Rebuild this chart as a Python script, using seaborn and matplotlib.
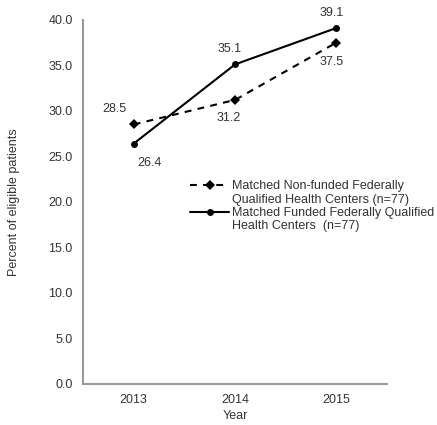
import matplotlib
matplotlib.use("Agg")
import matplotlib.pyplot as plt
from matplotlib.lines import Line2D
import seaborn as sns
import pandas as pd

years = [2013, 2014, 2015]
nonfunded = [28.5, 31.2, 37.5]
funded = [26.4, 35.1, 39.1]
name_nonfunded = "Matched Non-funded Federally"
name_nonfunded_2 = "Qualified Health Centers (n=77)"
name_funded = "Matched Funded Federally Qualified"
name_funded_2 = "Health Centers  (n=77)"
yticks = [0, 5, 10, 15, 20, 25, 30, 35, 40]

df = pd.DataFrame({
    "Year": years * 2,
    "Percent": nonfunded + funded,
    "Group": [name_nonfunded] * 3 + [name_funded] * 3,
})

sns.set_style("white")
plt.rcParams["font.family"] = ["Liberation Sans", "DejaVu Sans"]

FS = 9
TXT = "#333333"

fig = plt.figure(figsize=(4.37, 4.25), dpi=100)
ax = fig.add_axes([0.19, 0.0965, 0.696, 0.857])

sns.lineplot(data=df, x="Year", y="Percent", hue="Group", style="Group",
             palette=["black", "black"],
             dashes={name_nonfunded: (3.3, 3), name_funded: ""},
             markers={name_nonfunded: "D", name_funded: "o"},
             markersize=5, linewidth=1.5, markeredgewidth=0,
             ax=ax, legend=True)

ax.set_xlim(2012.5, 2015.5)
ax.set_ylim(0, 40)
ax.set_xticks(years)
ax.set_xticks([2015.5], minor=True)
ax.set_xticklabels([str(y) for y in years])
ax.set_yticks(yticks)
ax.set_yticklabels([f"{v:.1f}" for v in yticks])
ax.tick_params(axis="both", which="both", labelsize=FS, colors="#888888",
               length=2.5, width=1, direction="out", pad=5, labelcolor=TXT)
for s in ["top", "right"]:
    ax.spines[s].set_visible(False)
for s in ["left", "bottom"]:
    ax.spines[s].set_color("#999999")
    ax.spines[s].set_linewidth(1.5)

ax.set_xlabel("Year", fontsize=FS, color=TXT, labelpad=2.5)
ax.set_ylabel("Percent of eligible patients", fontsize=FS, color=TXT)
ax.yaxis.set_label_coords(-0.206, 0.5)

# value labels (offsets in points)
offsets_nf = [(-14, 11.5), (-4.3, -13), (-3.6, -14)]
offsets_f = [(11.5, -14), (-3.6, 11), (-3.6, 11)]
for x, y, o in zip(years, nonfunded, offsets_nf):
    ax.annotate(f"{y:.1f}", (x, y), xytext=o, textcoords="offset points",
                ha="center", va="center", fontsize=FS, color=TXT)
for x, y, o in zip(years, funded, offsets_f):
    ax.annotate(f"{y:.1f}", (x, y), xytext=o, textcoords="offset points",
                ha="center", va="center", fontsize=FS, color=TXT)

# legend: handles on the first line of each two-line label
handles, labels = ax.get_legend_handles_labels()
hmap = dict(zip(labels, handles))
blank = Line2D([], [], linestyle="none", marker=None)
leg_handles = [hmap[name_nonfunded], blank, hmap[name_funded], blank]
leg_labels = [name_nonfunded, name_nonfunded_2, name_funded, name_funded_2]
leg = ax.legend(leg_handles, leg_labels, loc="upper left",
                bbox_to_anchor=(185 / 437, 1 - 175 / 425),
                bbox_transform=fig.transFigure, frameon=False,
                fontsize=FS, handlelength=3.15, handletextpad=0.2,
                labelspacing=0.12, borderaxespad=0, borderpad=0.4)
for t in leg.get_texts():
    t.set_color(TXT)

fig.savefig("out.png", dpi=100)
